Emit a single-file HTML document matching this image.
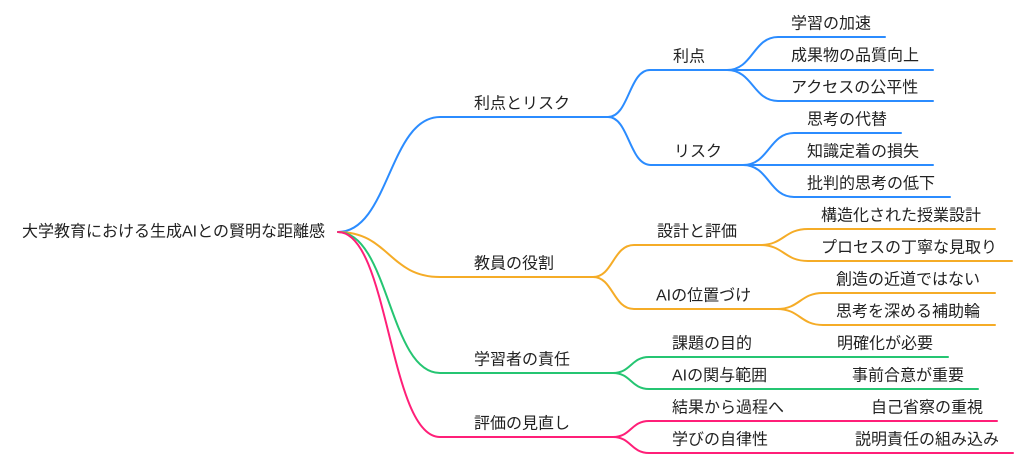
<!DOCTYPE html>
<html>
<head>
<meta charset="utf-8">
<style>
  html, body { margin: 0; padding: 0; background: #ffffff; }
  svg { display: block; }
  text { font-family: "Liberation Sans", "Noto Sans CJK JP", sans-serif; font-size: 16px; fill: #222222; dominant-baseline: central; }
  path { fill: none; stroke-width: 2; stroke-linecap: round; }
  .b { stroke: #2b8cff; }
  .o { stroke: #f5ac27; }
  .g { stroke: #25c572; }
  .p { stroke: #ff1f78; }
</style>
</head>
<body>
<svg width="1024" height="463" viewBox="0 0 1024 463" xmlns="http://www.w3.org/2000/svg">
  <!-- root links -->
  <path class="b" d="M338,232 C389,232 389,117 440,117 L608,117"/>
  <path class="o" d="M338,232 C389,232 389,277 440,277 L593,277"/>
  <path class="g" d="M338,232 C389,232 389,373 440,373 L613,373"/>
  <path class="p" d="M338,232 C389,232 389,437 440,437 L613,437"/>

  <!-- blue level 2 -->
  <path class="b" d="M608,117 C629,117 629,70 650,70 L727,70"/>
  <path class="b" d="M608,117 C629,117 629,165 651,165 L743,165"/>
  <!-- blue level 3 -->
  <path class="b" d="M727,70 C753,70 753,37 778,37 L885,37"/>
  <path class="b" d="M727,70 L933,70"/>
  <path class="b" d="M727,70 C753,70 753,101 778,101 L933,101"/>
  <path class="b" d="M743,165 C769,165 769,133 794,133 L901,133"/>
  <path class="b" d="M743,165 L933,165"/>
  <path class="b" d="M743,165 C769,165 769,197 794,197 L950,197"/>

  <!-- orange level 2 -->
  <path class="o" d="M593,277 C613,277 613,245 634,245 L760,245"/>
  <path class="o" d="M593,277 C613,277 613,309 634,309 L777,309"/>
  <!-- orange level 3 -->
  <path class="o" d="M760,245 C784,245 784,229 808,229 L995,229"/>
  <path class="o" d="M760,245 C784,245 784,261 808,261 L1012,261"/>
  <path class="o" d="M777,309 C800,309 800,293 823,293 L995,293"/>
  <path class="o" d="M777,309 C800,309 800,325 823,325 L995,325"/>

  <!-- green level 2 + leaves -->
  <path class="g" d="M613,373 C631,373 631,357 649,357 L948,357"/>
  <path class="g" d="M613,373 C631,373 631,389 649,389 L978,389"/>

  <!-- pink level 2 + leaves -->
  <path class="p" d="M613,437 C631,437 631,421 649,421 L997,421"/>
  <path class="p" d="M613,437 C631,437 631,453 649,453 L1013,453"/>

  <!-- root text -->
  <text x="22" y="232">大学教育における生成AIとの賢明な距離感</text>

  <!-- level 1 -->
  <text x="474" y="104">利点とリスク</text>
  <text x="474" y="264">教員の役割</text>
  <text x="474" y="360">学習者の責任</text>
  <text x="474" y="424">評価の見直し</text>

  <!-- level 2 -->
  <text x="673" y="57">利点</text>
  <text x="674" y="152">リスク</text>
  <text x="657" y="232">設計と評価</text>
  <text x="656" y="296">AIの位置づけ</text>
  <text x="672" y="344">課題の目的</text>
  <text x="672" y="376">AIの関与範囲</text>
  <text x="672" y="408">結果から過程へ</text>
  <text x="672" y="440">学びの自律性</text>

  <!-- level 3 -->
  <text x="791" y="24">学習の加速</text>
  <text x="791" y="56">成果物の品質向上</text>
  <text x="791" y="88">アクセスの公平性</text>
  <text x="807" y="120">思考の代替</text>
  <text x="807" y="152">知識定着の損失</text>
  <text x="807" y="184">批判的思考の低下</text>
  <text x="821" y="216">構造化された授業設計</text>
  <text x="821" y="248">プロセスの丁寧な見取り</text>
  <text x="836" y="280">創造の近道ではない</text>
  <text x="836" y="312">思考を深める補助輪</text>
  <text x="837" y="344">明確化が必要</text>
  <text x="852" y="376">事前合意が重要</text>
  <text x="871" y="408">自己省察の重視</text>
  <text x="855" y="440">説明責任の組み込み</text>
</svg>
</body>
</html>
